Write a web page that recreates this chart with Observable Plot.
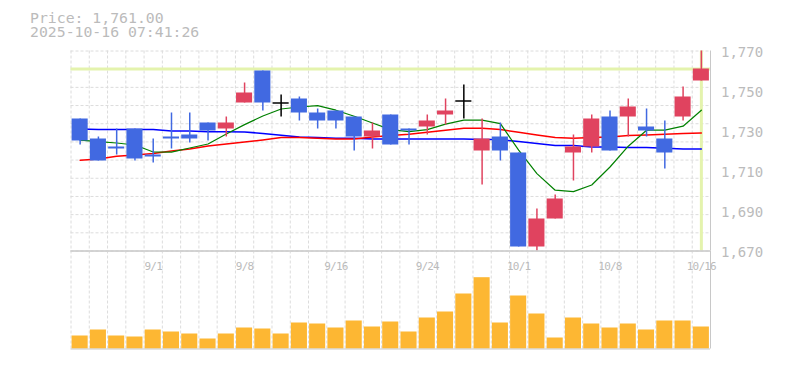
<!DOCTYPE html>
<html><head><meta charset="utf-8">
<script src="https://cdn.jsdelivr.net/npm/d3@7"></script>
<script src="https://cdn.jsdelivr.net/npm/@observablehq/plot@0.6"></script>
<style>
body{margin:0;background:#fff;}
#wrap{position:relative;width:785px;height:370px;overflow:hidden;background:#fff;}
#title{position:absolute;left:30px;top:10.5px;font-family:"DejaVu Sans Mono",monospace;font-size:14.8px;line-height:14px;color:#bbb;white-space:pre;}
#price,#vol{position:absolute;left:0;}
#price{top:0px;}
#vol{top:240px;}
#vol text{letter-spacing:-0.8px;}
</style></head><body>
<div id="wrap"><div id="title"></div><div id="price"></div><div id="vol"></div></div>
<script>
const dates = ["8/26","8/27","8/28","8/29","9/1","9/2","9/3","9/4","9/5","9/8","9/9","9/10","9/11","9/12","9/16","9/17","9/18","9/19","9/22","9/24","9/25","9/26","9/29","9/30","10/1","10/2","10/3","10/6","10/7","10/8","10/9","10/10","10/14","10/15","10/16"];
const opens  = [1736,1726,1722,1731,1718,1727,1728,1734,1731,1744,1760,1744,1746,1739,1740,1737,1727,1738,1731,1732,1738,1745,1720,1727,1719,1672,1686,1719,1722,1737,1737,1732,1726,1737,1755];
const highs  = [1736,1727,1731,1731,1726,1739,1739,1734,1737,1754,1760,1748,1747,1741,1740,1737,1734,1738,1731,1738,1746,1753,1736,1734,1719,1691,1698,1728,1738,1740,1746,1741,1735,1752,1770];
const lows   = [1723,1715,1718,1715,1714,1721,1724,1725,1727,1744,1740,1737,1735,1731,1731,1720,1721,1723,1723,1728,1733,1736,1703,1715,1672,1670,1686,1705,1719,1720,1727,1727,1711,1735,1755];
const closes = [1725,1715,1721,1716,1717,1726,1726,1730,1734,1749,1744,1744,1739,1735,1735,1727,1730,1723,1730,1735,1740,1745,1726,1720,1672,1686,1696,1722,1736,1720,1742,1730,1719,1747,1761];
const volumes = [130,190,130,120,190,170,150,100,150,210,200,150,260,250,210,280,220,270,170,310,370,550,713,260,530,350,110,310,250,210,250,190,280,280,220];
const ma5  = [1725.4,1724.7,1724.0,1723.0,1719.5,1719.4,1721.5,1723.5,1728.5,1733.2,1737.5,1741.0,1742.0,1742.7,1740.4,1737.4,1734.0,1730.7,1729.7,1730.7,1733.4,1735.4,1735.4,1733.7,1720.4,1708.7,1700.4,1699.7,1703.0,1712.0,1722.4,1730.4,1730.4,1732.4,1740.4];
const ma25 = [1715.4,1716.0,1717.4,1718.0,1718.7,1720.0,1721.0,1722.5,1723.5,1724.5,1725.5,1726.7,1726.7,1726.4,1726.0,1726.0,1727.0,1727.7,1728.4,1729.4,1730.4,1731.4,1731.4,1730.7,1729.4,1728.0,1726.7,1726.4,1726.7,1727.0,1727.7,1728.0,1728.4,1728.7,1729.0];
const ma75 = [1731.0,1730.7,1730.7,1730.7,1730.7,1730.0,1730.0,1729.6,1729.6,1729.5,1728.8,1727.9,1727.0,1726.7,1726.4,1726.4,1726.0,1726.0,1726.0,1726.0,1726.0,1726.0,1725.7,1725.7,1724.7,1723.7,1722.7,1722.7,1722.0,1722.0,1721.7,1721.7,1721.4,1721.0,1721.0];
const xTicks = ["9/1","9/8","9/16","9/24","10/1","10/8","10/16"];
const yTicks = [1670,1690,1710,1730,1750,1770];
const yDomain = [1670,1770];
const volDomain = [0,980];
const lastPrice = 1761;
const titleLines = ["Price: 1,761.00","2025-10-16 07:41:26"];

document.getElementById("title").textContent = titleLines.join("\n");

const rows = dates.map((d,i)=>({date:d, open:opens[i], high:highs[i], low:lows[i], close:closes[i], volume:volumes[i], ma5:ma5[i], ma25:ma25[i], ma75:ma75[i]}));
const UP = "#e0435f", DOWN = "#4169e1", GRID = "#dcdcdc", BORDER = "#c8c8c8", HL = "#e4f3ad", TXT = "#bbb";
const color = d => d.close > d.open ? UP : d.close < d.open ? DOWN : "#000";
const W = 785, ML = 70.5, MR = 75;
const step = (W - ML - MR) / dates.length;
const lastDate = dates[dates.length-1];
const xOpts = {type:"band", domain:dates, paddingInner:0.12, paddingOuter:0.06, round:false, axis:null};
const gridY = d3.range(12).map(i => yDomain[0] + i*(yDomain[1]-yDomain[0])/11);

const price = Plot.plot({
  width: W, height: 270, marginTop: 50.5, marginBottom: 19.5, marginLeft: ML, marginRight: MR,
  x: xOpts,
  y: {domain: yDomain},
  style: {background:"transparent", overflow:"visible"},
  marks: [
    Plot.ruleY(gridY, {stroke:GRID, strokeDasharray:"3,2"}),
    Plot.ruleX(dates, {stroke:GRID, strokeDasharray:"3,2", dx:-step/2}),
    Plot.ruleY([lastPrice], {stroke:HL, strokeWidth:3}),
    Plot.ruleX([lastDate], {stroke:HL, strokeWidth:3}),
    Plot.line(rows, {x:"date", y:"ma75", stroke:"#0000ff", strokeWidth:1.5}),
    Plot.line(rows, {x:"date", y:"ma25", stroke:"#ff0000", strokeWidth:1.5}),
    Plot.line(rows, {x:"date", y:"ma5", stroke:"#008000", strokeWidth:1.2}),
    Plot.ruleX(rows, {x:"date", y1:"low", y2:"high", stroke:color, strokeWidth:1.5}),
    Plot.barY(rows.filter(d => d.open !== d.close), {x:"date", y1:"open", y2:"close", fill:color}),
    Plot.tickY(rows.filter(d => d.open === d.close), {x:"date", y:"close", stroke:"#000", strokeWidth:1.5}),
    Plot.ruleY([yDomain[0]], {stroke:BORDER}),
    Plot.ruleX([lastDate], {stroke:BORDER, dx:step/2}),
    Plot.axisY({ticks:yTicks, anchor:"right", tickSize:0, tickPadding:10.5, fontSize:14, fontFamily:"DejaVu Sans Mono", fill:TXT, tickFormat:d3.format(","), dy:2, label:null})
  ]
});
document.getElementById("price").appendChild(price);

const vol = Plot.plot({
  width: W, height: 115, marginTop: 10.5, marginBottom: 6.5, marginLeft: ML, marginRight: MR,
  x: xOpts,
  y: {domain: volDomain, axis:null},
  style: {background:"transparent", overflow:"visible"},
  marks: [
    Plot.ruleX(dates, {stroke:GRID, strokeDasharray:"3,2", dx:-step/2}),
    Plot.barY(rows, {x:"date", y:"volume", fill:"#fdb733"}),
    Plot.ruleY([volDomain[0]], {stroke:BORDER}),
    Plot.ruleY([volDomain[1]], {stroke:BORDER}),
    Plot.ruleX([lastDate], {stroke:BORDER, dx:step/2}),
    Plot.text(xTicks, {x:d=>d, frameAnchor:"top", dy:11.5, fill:TXT, fontSize:11, fontFamily:"DejaVu Sans Mono"})
  ]
});
document.getElementById("vol").appendChild(vol);
</script>
</body></html>
